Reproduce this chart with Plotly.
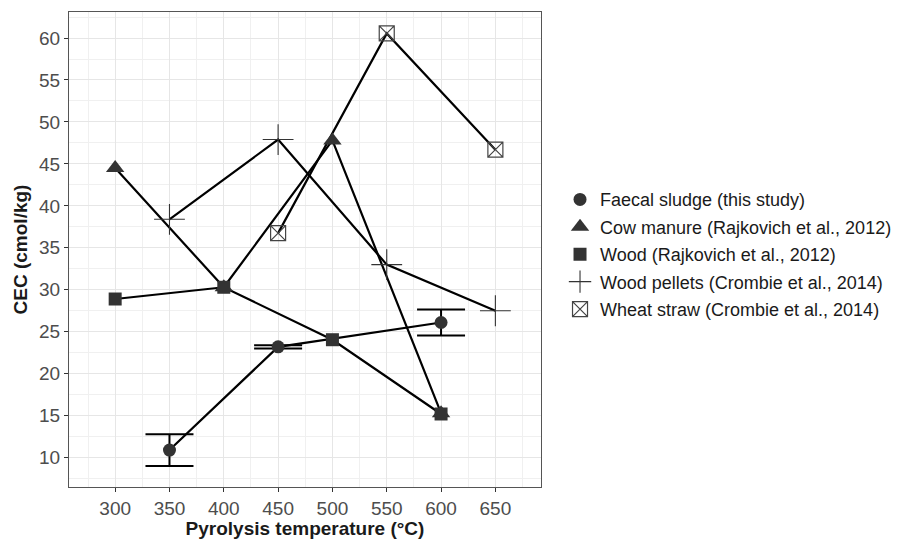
import plotly.graph_objects as go

# ---- data ----
fs_x = [350, 450, 600]
fs_y = [10.9, 23.2, 26.1]
fs_err = [1.9, 0.2, 1.55]

cow_x = [300, 400, 500, 600]
cow_y = [44.5, 30.3, 47.8, 15.3]

wood_x = [300, 400, 500, 600]
wood_y = [28.9, 30.3, 24.05, 15.2]

pel_x = [350, 450, 550, 650]
pel_y = [38.4, 47.9, 33.0, 27.5]

wheat_x = [450, 550, 650]
wheat_y = [36.75, 60.55, 46.7]

names = ["Faecal sludge (this study)",
         "Cow manure (Rajkovich et al., 2012)",
         "Wood (Rajkovich et al., 2012)",
         "Wood pellets (Crombie et al., 2014)",
         "Wheat straw (Crombie et al., 2014)"]

x_ticks = [300, 350, 400, 450, 500, 550, 600, 650]
y_ticks = [10, 15, 20, 25, 30, 35, 40, 45, 50, 55, 60]

FONT = "Liberation Sans, Arial, sans-serif"
DARK = "#333333"

fig = go.Figure()

series = [
    (fs_x, fs_y, dict(symbol="circle", size=13, color=DARK)),
    (cow_x, cow_y, dict(symbol="triangle-up", size=16, color=DARK)),
    (wood_x, wood_y, dict(symbol="square", size=13, color=DARK)),
    (pel_x, pel_y, dict(symbol="cross-thin-open", size=22, color=DARK,
                        line=dict(width=1.1, color=DARK))),
    (wheat_x, wheat_y, dict(symbol="square-x-open", size=15, color="#444444",
                            line=dict(width=1.2, color="#444444"))),
]

# lines first
for i, (xs, ys, mk) in enumerate(series):
    kw = {}
    if i == 0:
        kw["error_y"] = dict(type="data", array=fs_err, visible=True,
                             color="black", thickness=2, width=24)
    fig.add_trace(go.Scatter(x=xs, y=ys, mode="lines",
                             line=dict(color="black", width=2.2),
                             showlegend=False, legendgroup=f"g{i}",
                             hoverinfo="skip", **kw))

for i, (xs, ys, mk) in enumerate(series):
    fig.add_trace(go.Scatter(x=xs, y=ys, mode="markers", marker=mk,
                             name=names[i], legendgroup=f"g{i}"))

grid = "#e6e6e6"
fig.update_layout(
    width=910, height=539,
    margin=dict(l=69, r=369, t=12, b=52),
    plot_bgcolor="white", paper_bgcolor="white",
    font=dict(family=FONT, size=19, color="#4d4d4d"),
    showlegend=True,
    legend=dict(x=1.0403, y=0.49, xanchor="left", yanchor="middle",
                font=dict(size=18, color="#1a1a1a"),
                tracegroupgap=1, traceorder="grouped",
                bgcolor="rgba(0,0,0,0)"),
    xaxis=dict(range=[257.5, 692], tickvals=x_ticks, automargin=False,
               ticks="outside", ticklen=4, tickcolor=DARK,
               showgrid=True, gridcolor=grid, gridwidth=1.2,
               minor=dict(tickvals=[275 + 50 * k for k in range(9)],
                          showgrid=True, gridcolor="#f0f0f0", gridwidth=0.8,
                          ticks=""),
               showline=True, linecolor="#555555", linewidth=1, mirror=True,
               zeroline=False,
               title=dict(text="<b>Pyrolysis temperature (°C)</b>",
                          font=dict(size=19, color="#1a1a1a"), standoff=11)),
    yaxis=dict(range=[6.5, 63.1], tickvals=y_ticks, automargin=False,
               ticks="outside", ticklen=4, tickcolor=DARK,
               showgrid=True, gridcolor=grid, gridwidth=1.2,
               minor=dict(tickvals=[7.5 + 5 * k for k in range(12)],
                          showgrid=True, gridcolor="#f0f0f0", gridwidth=0.8,
                          ticks=""),
               showline=True, linecolor="#555555", linewidth=1, mirror=True,
               zeroline=False,
               title=dict(text="<b>CEC (cmol/kg)</b>",
                          font=dict(size=19, color="#1a1a1a"), standoff=6)),
)

fig.write_html("out.html",
               config={"displayModeBar": False},
               post_script="document.body.style.margin='0px';")
